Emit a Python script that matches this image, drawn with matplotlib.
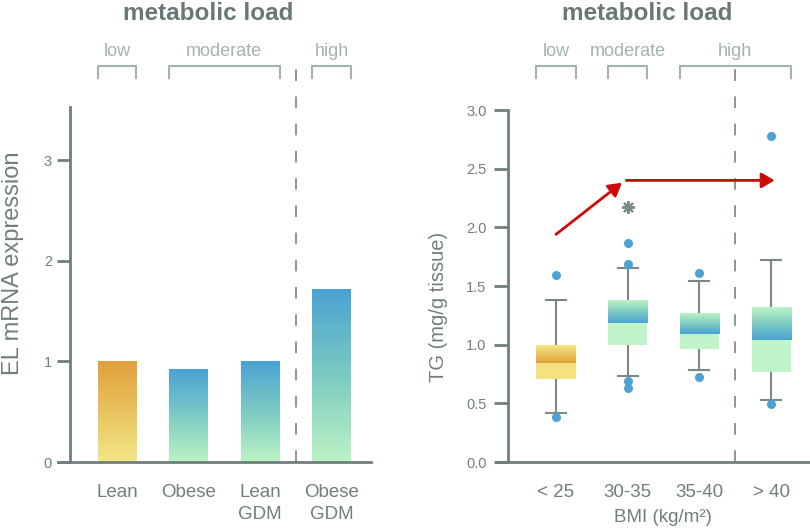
import matplotlib
matplotlib.use("Agg")
import matplotlib.pyplot as plt
import matplotlib.transforms as mtransforms
import numpy as np
from matplotlib.colors import LinearSegmentedColormap

plt.rcParams["font.family"] = ["Liberation Sans", "DejaVu Sans"]

# left panel: EL mRNA expression per group
groups = ["Lean", "Obese", "Lean\nGDM", "Obese\nGDM"]
el_expression = [1.0, 0.925, 1.0, 1.72]
group_palette = ["warm", "cool", "cool", "cool"]

# right panel: TG content per BMI class (box plot summary)
bmi_classes = ["< 25", "30-35", "35-40", "> 40"]
tg_q1 = [0.71, 1.00, 0.96, 0.765]
tg_med = [0.84, 1.185, 1.095, 1.04]
tg_q3 = [0.99, 1.38, 1.27, 1.32]
tg_whislo = [0.415, 0.73, 0.787, 0.531]
tg_whishi = [1.38, 1.65, 1.543, 1.725]
tg_fliers = [[1.59, 0.38], [1.864, 1.685, 0.693, 0.633], [1.608, 0.722], [2.777, 0.494]]
box_palette = ["warm", "cool", "cool", "cool"]
star_pos = (1, 2.17)
trend_arrows = [((0.0, 1.94), (0.92, 2.38)), ((0.98, 2.40), (3.05, 2.40))]

# metabolic load brackets: (label, first group, last group)
left_load = [("low", 0, 0), ("moderate", 1, 2), ("high", 3, 3)]
right_load = [("low", 0, 0), ("moderate", 1, 1), ("high", 2, 3)]

W, H = 810, 529
AXIS_C = "#6f7e7e"
TEXT_C = "#707e7e"
LIGHT_C = "#a3b3b0"
TITLE_C = "#6a7777"
RED = "#cc0a0a"
BLUE = "#4aa3d3"

cmaps = {
    "warm": LinearSegmentedColormap.from_list("warm", ["#f3e685", "#e0a03a"]),
    "cool": LinearSegmentedColormap.from_list("cool", ["#bdf3c5", "#7ccbc2", "#4aa2d4"]),
}
solid = {"warm": "#f4e280", "cool": "#bff4c8"}
grad = np.linspace(0, 1, 256).reshape(-1, 1)


def rect(l, t, r, b):
    return [l / W, 1 - b / H, (r - l) / W, (b - t) / H]


def style_axis(ax, spine_x, ylim, yticks, fmt, tick_len, tick_pad):
    for s in ["top", "right"]:
        ax.spines[s].set_visible(False)
    for s in ["left", "bottom"]:
        ax.spines[s].set_color(AXIS_C)
        ax.spines[s].set_linewidth(2)
    ax.spines["left"].set_position(("data", spine_x))
    ax.set_ylim(*ylim)
    ax.set_yticks(yticks)
    ax.set_yticklabels([fmt.format(v) for v in yticks])
    ax.tick_params(axis="y", length=tick_len, width=2, color=AXIS_C, pad=tick_pad,
                   labelsize=10.5, labelcolor=TEXT_C)
    ax.tick_params(axis="x", length=0, pad=16, labelsize=13.5, labelcolor=TEXT_C)
    ax.patch.set_visible(False)


def load_brackets(ax, spans, width, fig):
    tr = mtransforms.blended_transform_factory(ax.transData, fig.transFigure)
    for label, a, b in spans:
        x0, x1 = a - width / 2, b + width / 2
        ax.plot([x0, x0, x1, x1], [1 - 78 / H, 1 - 66 / H, 1 - 66 / H, 1 - 78 / H],
                color=LIGHT_C, lw=1.5, transform=tr, clip_on=False)
        ax.text((a + b) / 2, 1 - 51 / H, label, transform=tr, ha="center", va="center",
                fontsize=13, color=LIGHT_C)


fig = plt.figure(figsize=(W / 100, H / 100), dpi=100)

# ---- left: bars ----
ax1 = fig.add_axes(rect(58, 107, 371, 462))
bw = 0.545
for i, (v, pal) in enumerate(zip(el_expression, group_palette)):
    ax1.imshow(grad, extent=[i - bw / 2, i + bw / 2, 0, v], origin="lower",
               aspect="auto", cmap=cmaps[pal], zorder=2)
ax1.axvline(2.5, ymin=0, ymax=(462 - 65) / 355, color="#8a9696", lw=1.4,
            dashes=(6, 8), clip_on=False, zorder=1)
ax1.set_xticks(range(len(groups)))
ax1.set_xticklabels(groups, linespacing=1.35)
ax1.set_xlim(-0.825, 3.552)
style_axis(ax1, -0.657, (0, 3.532), [0, 1, 2, 3], "{:d}", 9.5, 3.5)
load_brackets(ax1, left_load, bw, fig)

# ---- right: box plots ----
ax2 = fig.add_axes(rect(497, 110, 810, 462))
stats = []
for i in range(len(bmi_classes)):
    stats.append(dict(med=tg_med[i], q1=tg_q1[i], q3=tg_q3[i], whislo=tg_whislo[i],
                      whishi=tg_whishi[i], fliers=tg_fliers[i], label=bmi_classes[i]))
ax2.bxp(stats, positions=range(len(bmi_classes)), widths=bw, capwidths=0.28,
        showbox=False,
        whiskerprops=dict(color="#7a8888", lw=1.5),
        capprops=dict(color="#7a8888", lw=1.5),
        medianprops=dict(visible=False),
        flierprops=dict(marker="o", markerfacecolor=BLUE, markeredgecolor="none",
                        markersize=6.5))
for i, pal in enumerate(box_palette):
    x0, x1 = i - bw / 2, i + bw / 2
    ax2.fill_between([x0, x1], tg_q1[i], tg_med[i], color=solid[pal], lw=0, zorder=3)
    ax2.imshow(grad[::-1], extent=[x0, x1, tg_med[i], tg_q3[i]], origin="lower",
               aspect="auto", cmap=cmaps[pal], zorder=3)
ax2.axvline(2.5, ymin=0, ymax=(462 - 65) / 352, color="#8a9696", lw=1.4,
            dashes=(6, 8), clip_on=False, zorder=1)
ax2.plot(*star_pos, marker=(8, 2, 0), markersize=9, color="#7d8a8a", mew=1.5)
for start, end in trend_arrows:
    ax2.annotate("", xy=end, xytext=start,
                 arrowprops=dict(arrowstyle="-|>,head_length=0.6,head_width=0.35",
                                 color=RED, lw=2, mutation_scale=13,
                                 shrinkA=0, shrinkB=0))
ax2.set_xticks(range(len(bmi_classes)))
ax2.set_xticklabels(bmi_classes)
ax2.set_xlim(-0.823, 3.543)
style_axis(ax2, -0.669, (0, 3.0), [0, 0.5, 1.0, 1.5, 2.0, 2.5, 3.0], "{:.1f}", 10, 5.5)
load_brackets(ax2, right_load, bw, fig)

# titles and axis labels
for cx in (208, 647):
    fig.text(cx / W, 1 - 14 / H, "metabolic load", ha="center", va="center",
             fontsize=17.5, fontweight="bold", color=TITLE_C)
fig.text(13 / W, 1 - 263 / H, "EL mRNA expression", rotation=90, ha="center",
         va="center", fontsize=17, color=TEXT_C)
fig.text(438 / W, 1 - 307 / H, "TG (mg/g tissue)", rotation=90, ha="center",
         va="center", fontsize=14.5, color=TEXT_C)
fig.text(663 / W, 1 - 517 / H, "BMI (kg/m²)", ha="center", va="center",
         fontsize=13.5, color=TEXT_C)

fig.savefig("out.png", dpi=100)
